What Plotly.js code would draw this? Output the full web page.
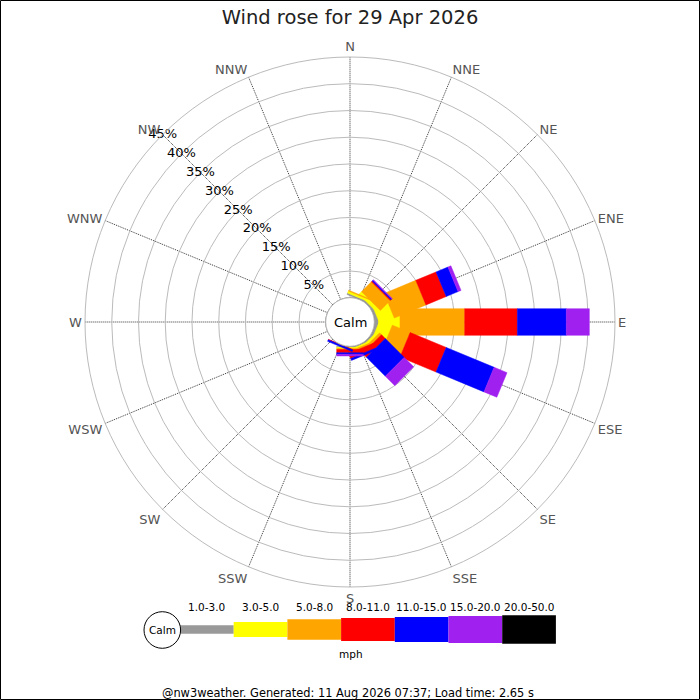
<!DOCTYPE html>
<html>
<head>
<meta charset="utf-8">
<script src="https://cdn.plot.ly/plotly-3.0.1.min.js"></script>
<style>html,body{margin:0;padding:0;background:#fff;}#chart{width:700px;height:700px;}</style>
</head>
<body>
<div id="chart"></div>
<script>
// ---- data ----
const directions = ['N','NNE','NE','ENE','E','ESE','SE','SSE','S','SSW','SW','WSW','W','WNW','NW','NNW'];
const bandLabels = ['1.0-3.0','3.0-5.0','5.0-8.0','8.0-11.0','11.0-15.0','15.0-20.0','20.0-50.0'];
const bandColors = ['#999999','#ffff00','#ffa500','#ff0000','#0000ff','#a020f0','#000000'];
const speed1to3   = [0, 0.3, 0.3, 0.5, 0.8,  0.5, 0.3, 0.2, 0.2, 0,   0, 0, 0, 0, 0, 0];
const speed3to5   = [0, 0.4, 0.7, 2.9, 4.0,  2.5, 0.5, 0.3, 0.2, 0,   0, 0, 0, 0, 0, 0];
const speed5to8   = [0, 0.15,2.6, 6.4, 12.1, 3.6, 0.5, 0.3, 0.2, 0,   0, 0, 0, 0, 0, 0];
const speed8to11  = [0, 0,   0.2, 4.1, 9.85, 7.3, 1.0, 1.0, 0.6, 0.1, 0, 0, 0, 0, 0, 0];
const speed11to15 = [0, 0,   0.2, 2.4, 9.15, 9.7, 5.0, 0.4, 0.3, 0.3, 0, 0, 0, 0, 0, 0];
const speed15to20 = [0, 0,   0.15,0.6, 4.3,  2.6, 2.5, 0,   0.3, 0,   0, 0, 0, 0, 0, 0];
const speed20to50 = [0, 0,   0,   0,   0,    0,   0,   0,   0,   0,   0, 0, 0, 0, 0, 0];
const radialTicks = [5,10,15,20,25,30,35,40,45];
const radialTickText = ['5%','10%','15%','20%','25%','30%','35%','40%','45%'];
const titleText = 'Wind rose for 29 Apr 2026';
const unitText = 'mph';
const calmText = 'Calm';
const footerText = '@nw3weather. Generated: 11 Aug 2026 07:37; Load time: 2.65 s';

// ---- geometry ----
const W = 700, H = 700;
const cx = 350, cy = 322, Rout = 265, Rhole = 24.3;
const hole = Rhole / Rout;
const rMax = 45;
const halfW = 13.3 / Rout;  // half bar width (normalised)
const FONT = 'DejaVu Sans, sans-serif';

const bands = [speed1to3, speed3to5, speed5to8, speed8to11, speed11to15, speed15to20, speed20to50];
const dirAngle = directions.map((d, i) => i * 360 / directions.length);

function toData(d, off) {
  const R = Math.sqrt(d * d + off * off);
  const dth = Math.atan2(off, d) * 180 / Math.PI;
  return [(R - hole) / (1 - hole) * rMax, dth];
}

const traces = [];
const cum = directions.map(() => 0);
bands.forEach((vals, b) => {
  directions.forEach((dname, i) => {
    const v = vals[i];
    if (v > 0) {
      const c0 = cum[i], c1 = cum[i] + v;
      const d0 = hole + (1 - hole) * c0 / rMax;
      const d1 = hole + (1 - hole) * c1 / rMax;
      const pts = [[d0, -halfW], [d1, -halfW], [d1, halfW], [d0, halfW], [d0, -halfW]];
      const r = [], th = [];
      pts.forEach(p => { const q = toData(p[0], p[1]); r.push(q[0]); th.push(dirAngle[i] + q[1]); });
      traces.push({
        type: 'scatterpolar', mode: 'lines', r: r, theta: th, fill: 'toself',
        fillcolor: bandColors[b], line: {color: bandColors[b], width: 0.5},
        hoverinfo: 'skip', showlegend: false, cliponaxis: false
      });
    }
  });
  vals.forEach((v, i) => { cum[i] += v; });
});

// calm circle border (r = 0 is the hole edge)
const circTh = [], circR = [];
for (let a = 0; a <= 360; a += 3) { circTh.push(a); circR.push(0); }
traces.push({type: 'scatterpolar', mode: 'lines', r: circR, theta: circTh,
  line: {color: '#666', width: 1}, hoverinfo: 'skip', showlegend: false, cliponaxis: false});

// radial tick labels along NW spoke
traces.push({type: 'scatterpolar', mode: 'text', r: radialTicks, theta: radialTicks.map(() => 315),
  text: radialTickText, textposition: 'middle center',
  textfont: {family: FONT, size: 13, color: '#000'}, hoverinfo: 'skip', showlegend: false, cliponaxis: false});

// ---- legend & decorations (paper coords) ----
const px = x => x / W, py = y => 1 - y / H;
const shapes = [];
const annotations = [];
shapes.push({type: 'rect', xref: 'paper', yref: 'paper', x0: px(0.5), x1: px(699.5), y0: py(699.5), y1: py(0.5),
  line: {color: '#000', width: 1}});
const legX0 = 180, legStep = 53.7, legCy = 629.5;
const legHeights = [8.3, 15, 20.3, 23, 25, 27, 28.3];
bandLabels.forEach((lab, b) => {
  const x0 = legX0 + b * legStep, x1 = x0 + legStep;
  const hgt = legHeights[b];
  shapes.push({type: 'rect', xref: 'paper', yref: 'paper', x0: px(x0), x1: px(x1),
    y0: py(legCy + hgt / 2), y1: py(legCy - hgt / 2), fillcolor: bandColors[b], line: {width: 0}});
  annotations.push({xref: 'paper', yref: 'paper', x: px((x0 + x1) / 2), y: py(607.3), text: lab, showarrow: false,
    xanchor: 'center', yanchor: 'middle', font: {family: FONT, size: 10.5, color: '#000'}});
});
shapes.push({type: 'circle', xref: 'paper', yref: 'paper', x0: px(162.3 - 18.3), x1: px(162.3 + 18.3),
  y0: py(630 + 18.3), y1: py(630 - 18.3), fillcolor: '#fff', line: {color: '#000', width: 1}});
annotations.push({xref: 'paper', yref: 'paper', x: px(162.3), y: py(630), text: calmText, showarrow: false,
  xanchor: 'center', yanchor: 'middle', font: {family: FONT, size: 10.5, color: '#000'}});
annotations.push({xref: 'paper', yref: 'paper', x: px(350.7), y: py(654), text: unitText, showarrow: false,
  xanchor: 'center', yanchor: 'middle', font: {family: FONT, size: 10.5, color: '#000'}});
annotations.push({xref: 'paper', yref: 'paper', x: px(348), y: py(692.5), text: footerText, showarrow: false,
  xanchor: 'center', yanchor: 'middle', font: {family: FONT, size: 11.4, color: '#000'}});
annotations.push({xref: 'paper', yref: 'paper', x: px(cx), y: py(cy), text: calmText, showarrow: false,
  xanchor: 'center', yanchor: 'middle', font: {family: FONT, size: 13, color: '#000'}});

const layout = {
  width: W, height: H, margin: {l: 0, r: 0, t: 0, b: 0},
  paper_bgcolor: '#fff', showlegend: false,
  title: {text: titleText, x: 0.5, xanchor: 'center', y: py(17), yanchor: 'middle',
    font: {family: FONT, size: 19.5, color: '#222'}},
  polar: {
    domain: {x: [px(cx - Rout), px(cx + Rout)], y: [py(cy + Rout), py(cy - Rout)]},
    hole: hole, bgcolor: '#fff',
    angularaxis: {direction: 'clockwise', rotation: 90, tickmode: 'array',
      tickvals: dirAngle, ticktext: directions, ticks: '',
      tickfont: {family: FONT, size: 13, color: '#555'},
      showgrid: true, gridcolor: '#333', griddash: '1px,1px', gridwidth: 1,
      showline: true, linecolor: '#bbb', linewidth: 1},
    radialaxis: {range: [0, rMax], tickmode: 'array', tickvals: radialTicks, showticklabels: false,
      ticks: '', showline: false, gridcolor: '#bbb', gridwidth: 1, angle: 135}
  },
  shapes: shapes, annotations: annotations
};

Plotly.newPlot('chart', traces, layout, {staticPlot: true, displayModeBar: false});
</script>
</body>
</html>
